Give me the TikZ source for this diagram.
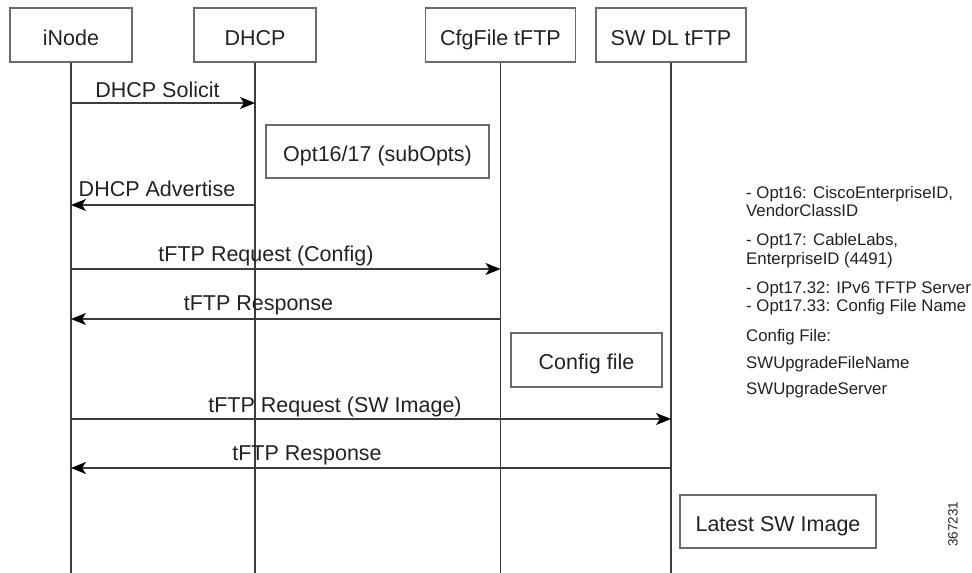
\documentclass[tikz,border=0pt]{standalone}
\usepackage{fontspec}
\setmainfont{Liberation Sans}
\usetikzlibrary{arrows.meta}
\definecolor{boxgray}{HTML}{6A6A6A}
\definecolor{linegray}{HTML}{3C3C3C}
\definecolor{textcol}{HTML}{222222}
\begin{document}
\begin{tikzpicture}[x=1pt,y=-1pt,
  mainfont/.style={font=\fontsize{21.5}{24}\selectfont},
  hdr/.style={draw=boxgray, line width=1.1pt, minimum height=54pt, inner sep=0pt, text height=20pt, text depth=0pt, text=textcol, mainfont},
  notebox/.style={draw=boxgray, line width=1.1pt, inner sep=0pt, text height=19pt, text depth=0pt, text=textcol, mainfont},
  lifeline/.style={draw=linegray, line width=1.1pt},
  msg/.style={draw=linegray, line width=1.1pt, -{Stealth[length=15pt,width=12pt,inset=4pt,color=black]}},
  lbl/.style={anchor=base, inner sep=0pt, text=textcol, mainfont},
  note/.style={anchor=base west, inner sep=0pt, text=textcol, font=\fontsize{16.8}{19}\selectfont}]
\useasboundingbox (0,0) rectangle (972,573);

% headers
\node[hdr, minimum width=122pt] (iNode) at (71,35) {iNode};
\node[hdr, minimum width=122pt] (dhcp) at (255,35) {DHCP};
\node[hdr, minimum width=150pt] (cfg) at (500.5,35) {CfgFile tFTP};
\node[hdr, minimum width=150pt] (swdl) at (671,35) {SW DL tFTP};

% lifeline ends
\coordinate (iNodeEnd) at (iNode |- 0,573);
\coordinate (dhcpEnd) at (dhcp |- 0,573);
\coordinate (cfgEnd) at (cfg |- 0,573);
\coordinate (swdlEnd) at (swdl |- 0,573);
\draw[lifeline] (iNode.south) -- (iNodeEnd);
\draw[lifeline] (dhcp.south) -- (dhcpEnd);
\draw[lifeline] (cfg.south) -- (cfgEnd);
\draw[lifeline] (swdl.south) -- (swdlEnd);

% message end points
\coordinate (m1a) at (iNode |- 0,103);
\coordinate (m1b) at (dhcp |- 0,103);
\coordinate (m2a) at (dhcp |- 0,205);
\coordinate (m2b) at (iNode |- 0,205);
\coordinate (m3a) at (iNode |- 0,269);
\coordinate (m3b) at (cfg |- 0,269);
\coordinate (m4a) at (cfg |- 0,319);
\coordinate (m4b) at (iNode |- 0,319);
\coordinate (m5a) at (iNode |- 0,419);
\coordinate (m5b) at (swdl |- 0,419);
\coordinate (m6a) at (swdl |- 0,468);
\coordinate (m6b) at (iNode |- 0,468);

\draw[msg] (m1a) -- (m1b);
\draw[msg] (m2a) -- (m2b);
\draw[msg] (m3a) -- (m3b);
\draw[msg] (m4a) -- (m4b);
\draw[msg] (m5a) -- (m5b);
\draw[msg] (m6a) -- (m6b);

% message labels
\node[lbl] (l1) at (157.5,97) {DHCP Solicit};
\node[lbl] (l2) at (157,196) {DHCP Advertise};
\node[lbl] (l3) at (266,261) {tFTP Request (Config)};
\node[lbl] (l4) at (258.5,310) {tFTP Response};
\node[lbl] (l5) at (335,412) {tFTP Request (SW Image)};
\node[lbl] (l6) at (307,460) {tFTP Response};

% boxes
\node[notebox, minimum width=223pt, minimum height=53pt] (opt) at (377.5,151.5) {Opt16/17 (subOpts)};
\node[notebox, minimum width=151pt, minimum height=54pt] (cfgfile) at (586.5,360) {Config file};
\node[notebox, minimum width=196pt, minimum height=53pt] (latest) at (778,521.5) {Latest SW Image};

% notes
\node[note] (n1) at (746,198) {- Opt16: CiscoEnterpriseID,};
\node[note] (n2) at (746,216) {VendorClassID};
\node[note] (n3) at (746,245) {- Opt17: CableLabs,};
\node[note] (n4) at (746,264) {EnterpriseID (4491)};
\node[note] (n5) at (746,293) {- Opt17.32: IPv6 TFTP Server};
\node[note] (n6) at (746,311) {- Opt17.33: Config File Name};
\node[note] (n7) at (746,341) {Config File:};
\node[note] (n8) at (746,368) {SWUpgradeFileName};
\node[note] (n9) at (746,394) {SWUpgradeServer};

% figure number
\node[rotate=90, inner sep=0pt, text=textcol, font=\fontsize{13.5}{15}\selectfont] (fig) at (953,524) {367231};
\end{tikzpicture}
\end{document}
